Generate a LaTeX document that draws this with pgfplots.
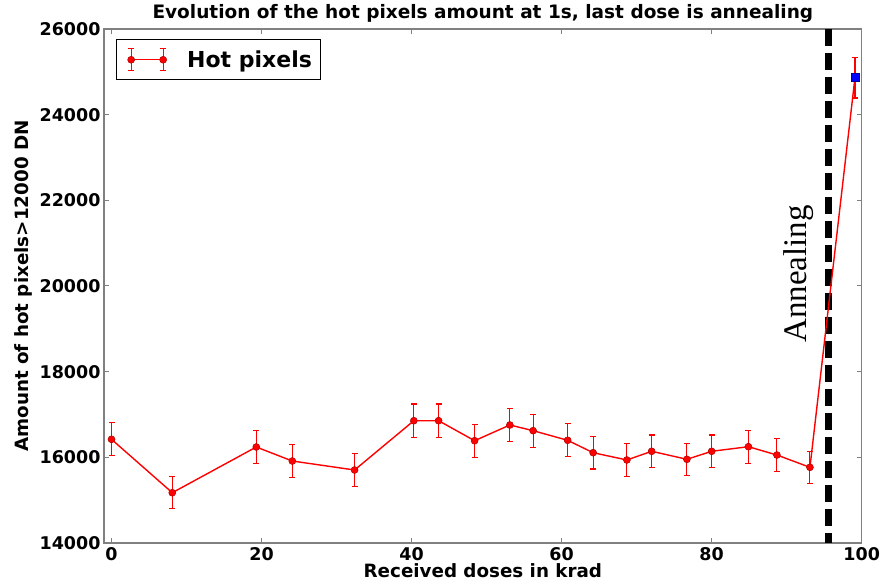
\documentclass[border=0pt]{standalone}
\usepackage{fontspec}
\setmainfont{DejaVu Sans}
\newfontfamily\timesfont{Liberation Serif}
\usepackage{pgfplots}
\pgfplotsset{compat=1.18}
\definecolor{hpred}{RGB}{255,0,0}
\definecolor{hpedge}{RGB}{170,0,0}
\definecolor{spine}{RGB}{128,128,128}

\begin{document}
\begin{tikzpicture}
\useasboundingbox (-104pt,-42pt) rectangle (778pt,543pt);
\begin{axis}[
  scale only axis, width=757.7pt, height=514pt,
  xmin=-1, xmax=100, ymin=14000, ymax=26000,
  xtick={0,20,40,60,80,100}, xticklabels={0,20,40,60,80,100},
  ytick={14000,16000,18000,20000,22000,24000,26000},
  yticklabels={14000,16000,18000,20000,22000,24000,26000},
  scaled y ticks=false,
  tick align=inside, major tick length=5pt,
  tick style={spine, line width=1pt},
  axis line style={spine, line width=1.2pt},
  ticklabel style={font=\fontsize{17.5}{20}\selectfont\bfseries},
  xticklabel style={anchor=base, yshift=-17pt, inner sep=0.5pt},
  title={Evolution of the hot pixels amount at 1s, last dose is annealing},
  title style={font=\fontsize{18.5}{21}\selectfont\bfseries, at={(axis description cs:0.5,1.0097)}, anchor=base},
  xlabel={Received doses in krad},
  xlabel style={font=\fontsize{18.3}{21}\selectfont\bfseries, at={(axis description cs:0.5,-0.0665)}, anchor=base, inner sep=0.5pt},
  ylabel={Amount of hot pixels>12000 DN},
  ylabel style={font=\fontsize{18.3}{21}\selectfont\bfseries, at={(axis description cs:-0.1003,0.5)}, anchor=base},
  legend style={at={(axis description cs:0.0154,0.98)}, anchor=north west,
    draw=black, line width=1pt, inner xsep=7pt, inner ysep=3pt,
    font=\fontsize{22}{24}\selectfont\bfseries},
  legend cell align=left,
]
% annealing marker
\addplot[black, line width=6.5pt, dash pattern=on 17pt off 7pt, forget plot]
  coordinates {(95.6,26000) (95.6,14000)};
\node[rotate=90, anchor=base, font=\timesfont\fontsize{33}{36}\selectfont]
  at (axis cs:92.7,20280) {Annealing};

\addplot[color=hpred, line width=1.4pt, mark=*, mark size=3.5pt,
  mark options={fill=hpred, draw=hpedge, line width=0.5pt},
  error bars/.cd, y dir=both, y explicit,
  error bar style={draw=hpred, line width=1.1pt},
  error mark options={draw=hpred, line width=1.1pt, mark size=3pt, rotate=90},
  /pgfplots/legend image code/.code={
    \path[draw=none, fill=none] (-8pt,-17pt) rectangle (54pt,17pt);
    \draw[draw=hpred, line width=1.4pt] (0pt,0pt) -- (32pt,0pt);
    \draw[draw=hpred, line width=1.1pt] (0pt,-11pt) -- (0pt,11pt) (32pt,-11pt) -- (32pt,11pt)
      (-3pt,-11pt) -- (3pt,-11pt) (-3pt,11pt) -- (3pt,11pt)
      (29pt,-11pt) -- (35pt,-11pt) (29pt,11pt) -- (35pt,11pt);
    \filldraw[fill=hpred, draw=hpedge, line width=0.5pt] (0pt,0pt) circle (3.5pt) (32pt,0pt) circle (3.5pt);
  }]
  coordinates {
  (0,16421) +- (0,384)
  (8.1,15174) +- (0,370)
  (19.3,16241) +- (0,382)
  (24.1,15914) +- (0,378)
  (32.4,15704) +- (0,376)
  (40.3,16855) +- (0,389)
  (43.6,16855) +- (0,389)
  (48.4,16388) +- (0,384)
  (53.1,16755) +- (0,388)
  (56.2,16622) +- (0,387)
  (60.8,16398) +- (0,384)
  (64.2,16108) +- (0,381)
  (68.7,15938) +- (0,379)
  (72.0,16141) +- (0,381)
  (76.7,15954) +- (0,379)
  (80.0,16141) +- (0,381)
  (84.9,16248) +- (0,382)
  (88.7,16054) +- (0,380)
  (93.1,15767) +- (0,377)
  (99.1,24863) +- (0,473)
  };
\addlegendentry{Hot pixels}

\addplot[only marks, mark=square*, mark size=4pt,
  mark options={fill=blue, draw=blue!60!black, line width=0.6pt}, forget plot]
  coordinates {(99.1,24863)};
\end{axis}
\end{tikzpicture}
\end{document}
